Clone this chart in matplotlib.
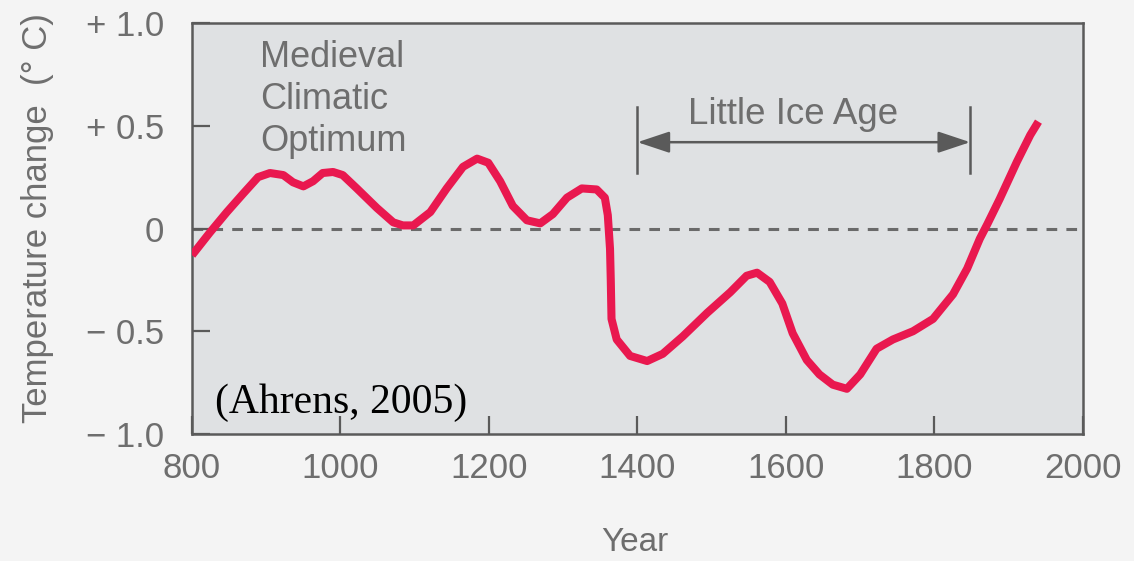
import matplotlib
matplotlib.use("Agg")
import matplotlib.pyplot as plt

# ---- data ----
years = [800, 824, 847, 869, 889, 905, 923, 936, 950, 963, 976, 990, 1003, 1022,
         1049, 1071, 1084, 1098, 1121, 1143, 1165, 1184, 1199, 1215, 1232, 1251,
         1269, 1286, 1305, 1325, 1345, 1356, 1360, 1363, 1364, 1365, 1372, 1390,
         1413, 1434, 1461, 1494, 1525, 1547, 1561, 1578, 1595, 1609, 1628, 1645,
         1663, 1682, 1700, 1722, 1744, 1771, 1798, 1825, 1844, 1861, 1871, 1888,
         1911, 1929, 1940]
temps = [-0.13, -0.02, 0.08, 0.17, 0.25, 0.27, 0.26, 0.225, 0.205, 0.23, 0.27, 0.275,
         0.26, 0.195, 0.1, 0.03, 0.015, 0.015, 0.08, 0.195, 0.3, 0.34, 0.32, 0.23,
         0.11, 0.04, 0.025, 0.07, 0.15, 0.195, 0.19, 0.15, 0.065, -0.1, -0.25, -0.44,
         -0.54, -0.62, -0.645, -0.61, -0.525, -0.41, -0.31, -0.23, -0.215, -0.26,
         -0.365, -0.51, -0.64, -0.71, -0.76, -0.78, -0.71, -0.585, -0.54, -0.5, -0.44,
         -0.32, -0.195, -0.05, 0.02, 0.145, 0.325, 0.455, 0.52]

x_ticks = [800, 1000, 1200, 1400, 1600, 1800, 2000]
x_tick_labels = ["800", "1000", "1200", "1400", "1600", "1800", "2000"]
y_ticks = [-1.0, -0.5, 0.0, 0.5, 1.0]
y_tick_labels = ["\u2212 1.0", "\u2212 0.5", "0", "+ 0.5", "+ 1.0"]

lia_start, lia_end = 1400, 1848
medieval_label = "Medieval\nClimatic\nOptimum"
lia_label = "Little Ice Age"
source_label = "(Ahrens, 2005)"

# ---- style ----
plt.rcParams['font.family'] = ['Liberation Sans', 'DejaVu Sans']
gray_txt = '#6e6e6e'
edge = '#5a5a5a'

fig = plt.figure(figsize=(11.34, 5.61), dpi=100)
fig.patch.set_facecolor('#f4f4f4')
ax = fig.add_axes([192/1134, 1 - 434/561, (1083-192)/1134, (434-23)/561])
ax.set_facecolor('#dfe1e3')

ax.set_xlim(800, 2000)
ax.set_ylim(-1.0, 1.0)

ax.axhline(0, color='#6a6a6a', lw=2.2, dashes=(3.5, 3), zorder=1)
ax.plot(years, temps, color='#e9184f', lw=5.8, solid_joinstyle='round',
        solid_capstyle='butt', zorder=3)

for s in ax.spines.values():
    s.set_color(edge)
    s.set_linewidth(1.8)

ax.set_xticks(x_ticks)
ax.set_xticklabels(x_tick_labels)
ax.set_yticks(y_ticks)
ax.set_yticklabels(y_tick_labels)
ax.tick_params(axis='both', direction='in', length=13, width=1.6, color=edge,
               labelsize=25, labelcolor=gray_txt)
ax.tick_params(axis='x', pad=13)
ax.tick_params(axis='y', pad=20)

ax.set_ylabel("Temperature change  (\u00b0 C)", fontsize=25, color=gray_txt)
ax.yaxis.set_label_coords(-0.155, 0.525)
ax.set_xlabel("Year", fontsize=24, color=gray_txt)
ax.xaxis.set_label_coords(0.497, -0.226)

# annotations
ax.text(892, 0.915, medieval_label, fontsize=26, color=gray_txt, ha='left', va='top',
        linespacing=1.25)
ax.text(1609, 0.51, lia_label, fontsize=26.5, color=gray_txt, ha='center', va='baseline')
ax.plot([lia_start, lia_start], [0.27, 0.59], color=edge, lw=1.8)
ax.plot([lia_end, lia_end], [0.27, 0.59], color=edge, lw=1.8)
ax.annotate("", xy=(lia_start, 0.42), xytext=(lia_end, 0.42),
            arrowprops=dict(arrowstyle='<|-|>,head_length=0.9,head_width=0.3',
                            color=edge, lw=1.8, mutation_scale=22,
                            shrinkA=0, shrinkB=0))
ax.text(831, -0.90, source_label, fontsize=30, color='black', ha='left', va='baseline',
        family=['Liberation Serif', 'DejaVu Serif'])

fig.savefig("out.png", dpi=100, facecolor=fig.get_facecolor())
